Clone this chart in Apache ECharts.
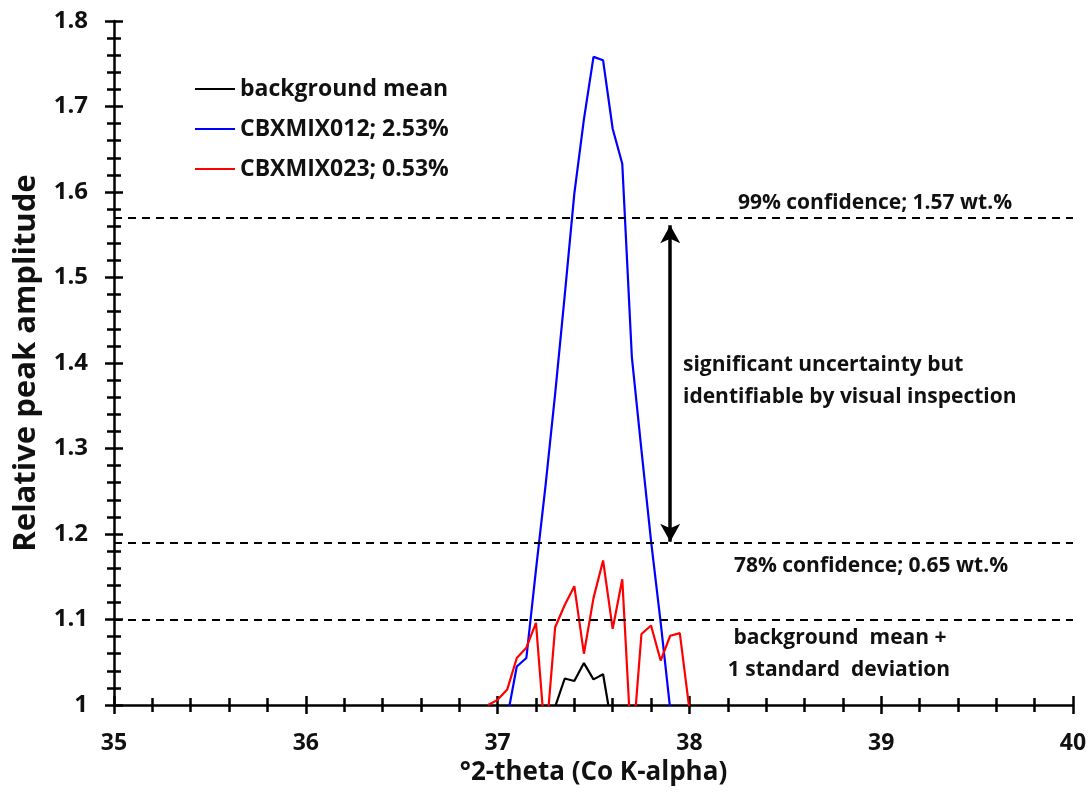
<!DOCTYPE html>
<html>
<head>
<meta charset="utf-8">
<script src="https://cdn.jsdelivr.net/npm/echarts@6/dist/echarts.min.js"></script>
<style>
html,body{margin:0;padding:0;background:#fff;}
#chart{width:1092px;height:794px;}
</style>
</head>
<body>
<div id="chart"></div>
<script>
// ---- data ----
const seriesNames = ['background mean', 'CBXMIX012; 2.53%', 'CBXMIX023; 0.53%'];

const blackX = [37.30, 37.35, 37.40, 37.45, 37.50, 37.55, 37.60];
const blackY = [0.998, 1.031, 1.028, 1.049, 1.030, 1.036, 0.970];

const blueX = [37.05, 37.10, 37.15, 37.20, 37.25, 37.30, 37.35, 37.40, 37.45, 37.50,
               37.55, 37.60, 37.65, 37.70, 37.75, 37.80, 37.85, 37.90];
const blueY = [0.985, 1.045, 1.055, 1.158, 1.257, 1.364, 1.479, 1.598, 1.685, 1.758,
               1.754, 1.674, 1.633, 1.407, 1.298, 1.192, 1.097, 0.995];

const redX = [36.95, 37.00, 37.05, 37.10, 37.15, 37.20, 37.25, 37.30, 37.35, 37.40, 37.45,
              37.50, 37.55, 37.60, 37.65, 37.70, 37.75, 37.80, 37.85, 37.90, 37.95, 38.00];
const redY = [1.000, 1.006, 1.018, 1.055, 1.067, 1.096, 0.955, 1.091, 1.117, 1.139, 1.060,
              1.125, 1.169, 1.089, 1.147, 0.940, 1.083, 1.093, 1.052, 1.081, 1.084, 0.995];

const thresholds = [1.573, 1.186, 1.100];
const arrowX = 37.9;
const arrowY = [1.561, 1.191];

const xRange = [35, 40];
const yRange = [1, 1.8];

const annotations = [
  '99% confidence; 1.57 wt.%',
  'significant uncertainty but',
  'identifiable by visual inspection',
  '78% confidence; 0.65 wt.%',
  'background  mean +',
  '1 standard  deviation'
];
// ---------------------------------------

const FONT = 'Open Sans';
const pairs = (xs, ys) => xs.map((x, i) => [x, ys[i]]);
const tickStyle = {color: '#000', width: 2.5};

function xAxisDef(inside) {
  return {
    type: 'value', min: xRange[0], max: xRange[1], interval: 1, position: 'bottom',
    axisLine: {show: !inside, onZero: false, lineStyle: {color: '#000', width: 2.5}},
    axisTick: {show: true, inside: inside, length: 9, lineStyle: tickStyle},
    minorTick: {show: true, splitNumber: 5, length: 7, lineStyle: tickStyle},
    splitLine: {show: false}, minorSplitLine: {show: false},
    axisLabel: {show: !inside, margin: 27, fontFamily: FONT, fontWeight: 'bold', fontSize: 23, color: '#111'},
    name: inside ? '' : '°2-theta (Co K-alpha)',
    nameLocation: 'middle', nameGap: 50,
    nameTextStyle: {fontFamily: FONT, fontWeight: 'bold', fontSize: 26, color: '#111'}
  };
}
function yAxisDef(inside) {
  return {
    type: 'value', min: yRange[0], max: yRange[1], interval: 0.1, position: 'left',
    axisLine: {show: !inside, onZero: false, lineStyle: {color: '#000', width: 2.5}},
    axisTick: {show: true, inside: inside, length: 9, lineStyle: tickStyle},
    minorTick: {show: true, splitNumber: 5, length: 7, lineStyle: tickStyle},
    splitLine: {show: false}, minorSplitLine: {show: false},
    axisLabel: {show: !inside, margin: 26, fontFamily: FONT, fontWeight: 'bold', fontSize: 24, color: '#111'},
    name: inside ? '' : 'Relative peak amplitude',
    nameLocation: 'middle', nameGap: 72,
    nameTextStyle: {fontFamily: FONT, fontWeight: 'bold', fontSize: 31, color: '#111'}
  };
}

const chart = echarts.init(document.getElementById('chart'), null, {renderer: 'canvas'});

const option = {
  animation: false,
  backgroundColor: '#ffffff',
  grid: {left: 114, right: 19, top: 21, bottom: 89, containLabel: false, outerBoundsMode: 'none'},
  legend: {
    left: 190, top: 71, orient: 'vertical', icon: 'rect',
    itemWidth: 40, itemHeight: 2, itemGap: 14,
    data: seriesNames,
    textStyle: {fontFamily: FONT, fontWeight: 'bold', fontSize: 23, color: '#111', lineHeight: 26}
  },
  xAxis: [xAxisDef(false), xAxisDef(true)],
  yAxis: [yAxisDef(false), yAxisDef(true)],
  series: [
    {
      name: seriesNames[0], type: 'line', data: pairs(blackX, blackY),
      symbol: 'none', showSymbol: false, clip: true,
      color: '#000000', lineStyle: {width: 2.2, color: '#000000'},
      markLine: {
        silent: true, symbol: 'none', label: {show: false},
        lineStyle: {color: '#000', width: 2, type: [8, 6]},
        data: thresholds.map(v => ({yAxis: v}))
      }
    },
    {
      name: seriesNames[1], type: 'line', data: pairs(blueX, blueY),
      symbol: 'none', showSymbol: false, clip: true,
      color: '#0000ff', lineStyle: {width: 2.2, color: '#0000ff'},
      markLine: {
        silent: true, symbol: ['arrow', 'arrow'], symbolSize: [15, 18], label: {show: false},
        lineStyle: {color: '#000', width: 3.5, type: 'solid'},
        data: [[{coord: [arrowX, arrowY[0]]}, {coord: [arrowX, arrowY[1]]}]]
      }
    },
    {
      name: seriesNames[2], type: 'line', data: pairs(redX, redY),
      symbol: 'none', showSymbol: false, clip: true,
      color: '#ff0000', lineStyle: {width: 2.2, color: '#ff0000'}
    }
  ]
};
chart.setOption(option);

const tStyle = (extra) => Object.assign({
  fontFamily: FONT, fontWeight: 'bold', fontSize: 21, fill: '#111'
}, extra);

chart.setOption({
  graphic: [
    {type: 'text', x: 875, y: 203, style: tStyle({text: annotations[0], align: 'center', verticalAlign: 'middle'})},
    {type: 'text', x: 683, y: 365, style: tStyle({text: annotations[1], align: 'left', verticalAlign: 'middle'})},
    {type: 'text', x: 683, y: 397, style: tStyle({text: annotations[2], align: 'left', verticalAlign: 'middle'})},
    {type: 'text', x: 871, y: 566, style: tStyle({text: annotations[3], align: 'center', verticalAlign: 'middle'})},
    {type: 'text', x: 840, y: 638, style: tStyle({text: annotations[4], align: 'center', verticalAlign: 'middle'})},
    {type: 'text', x: 839, y: 670, style: tStyle({text: annotations[5], align: 'center', verticalAlign: 'middle'})}
  ]
});
</script>
</body>
</html>
